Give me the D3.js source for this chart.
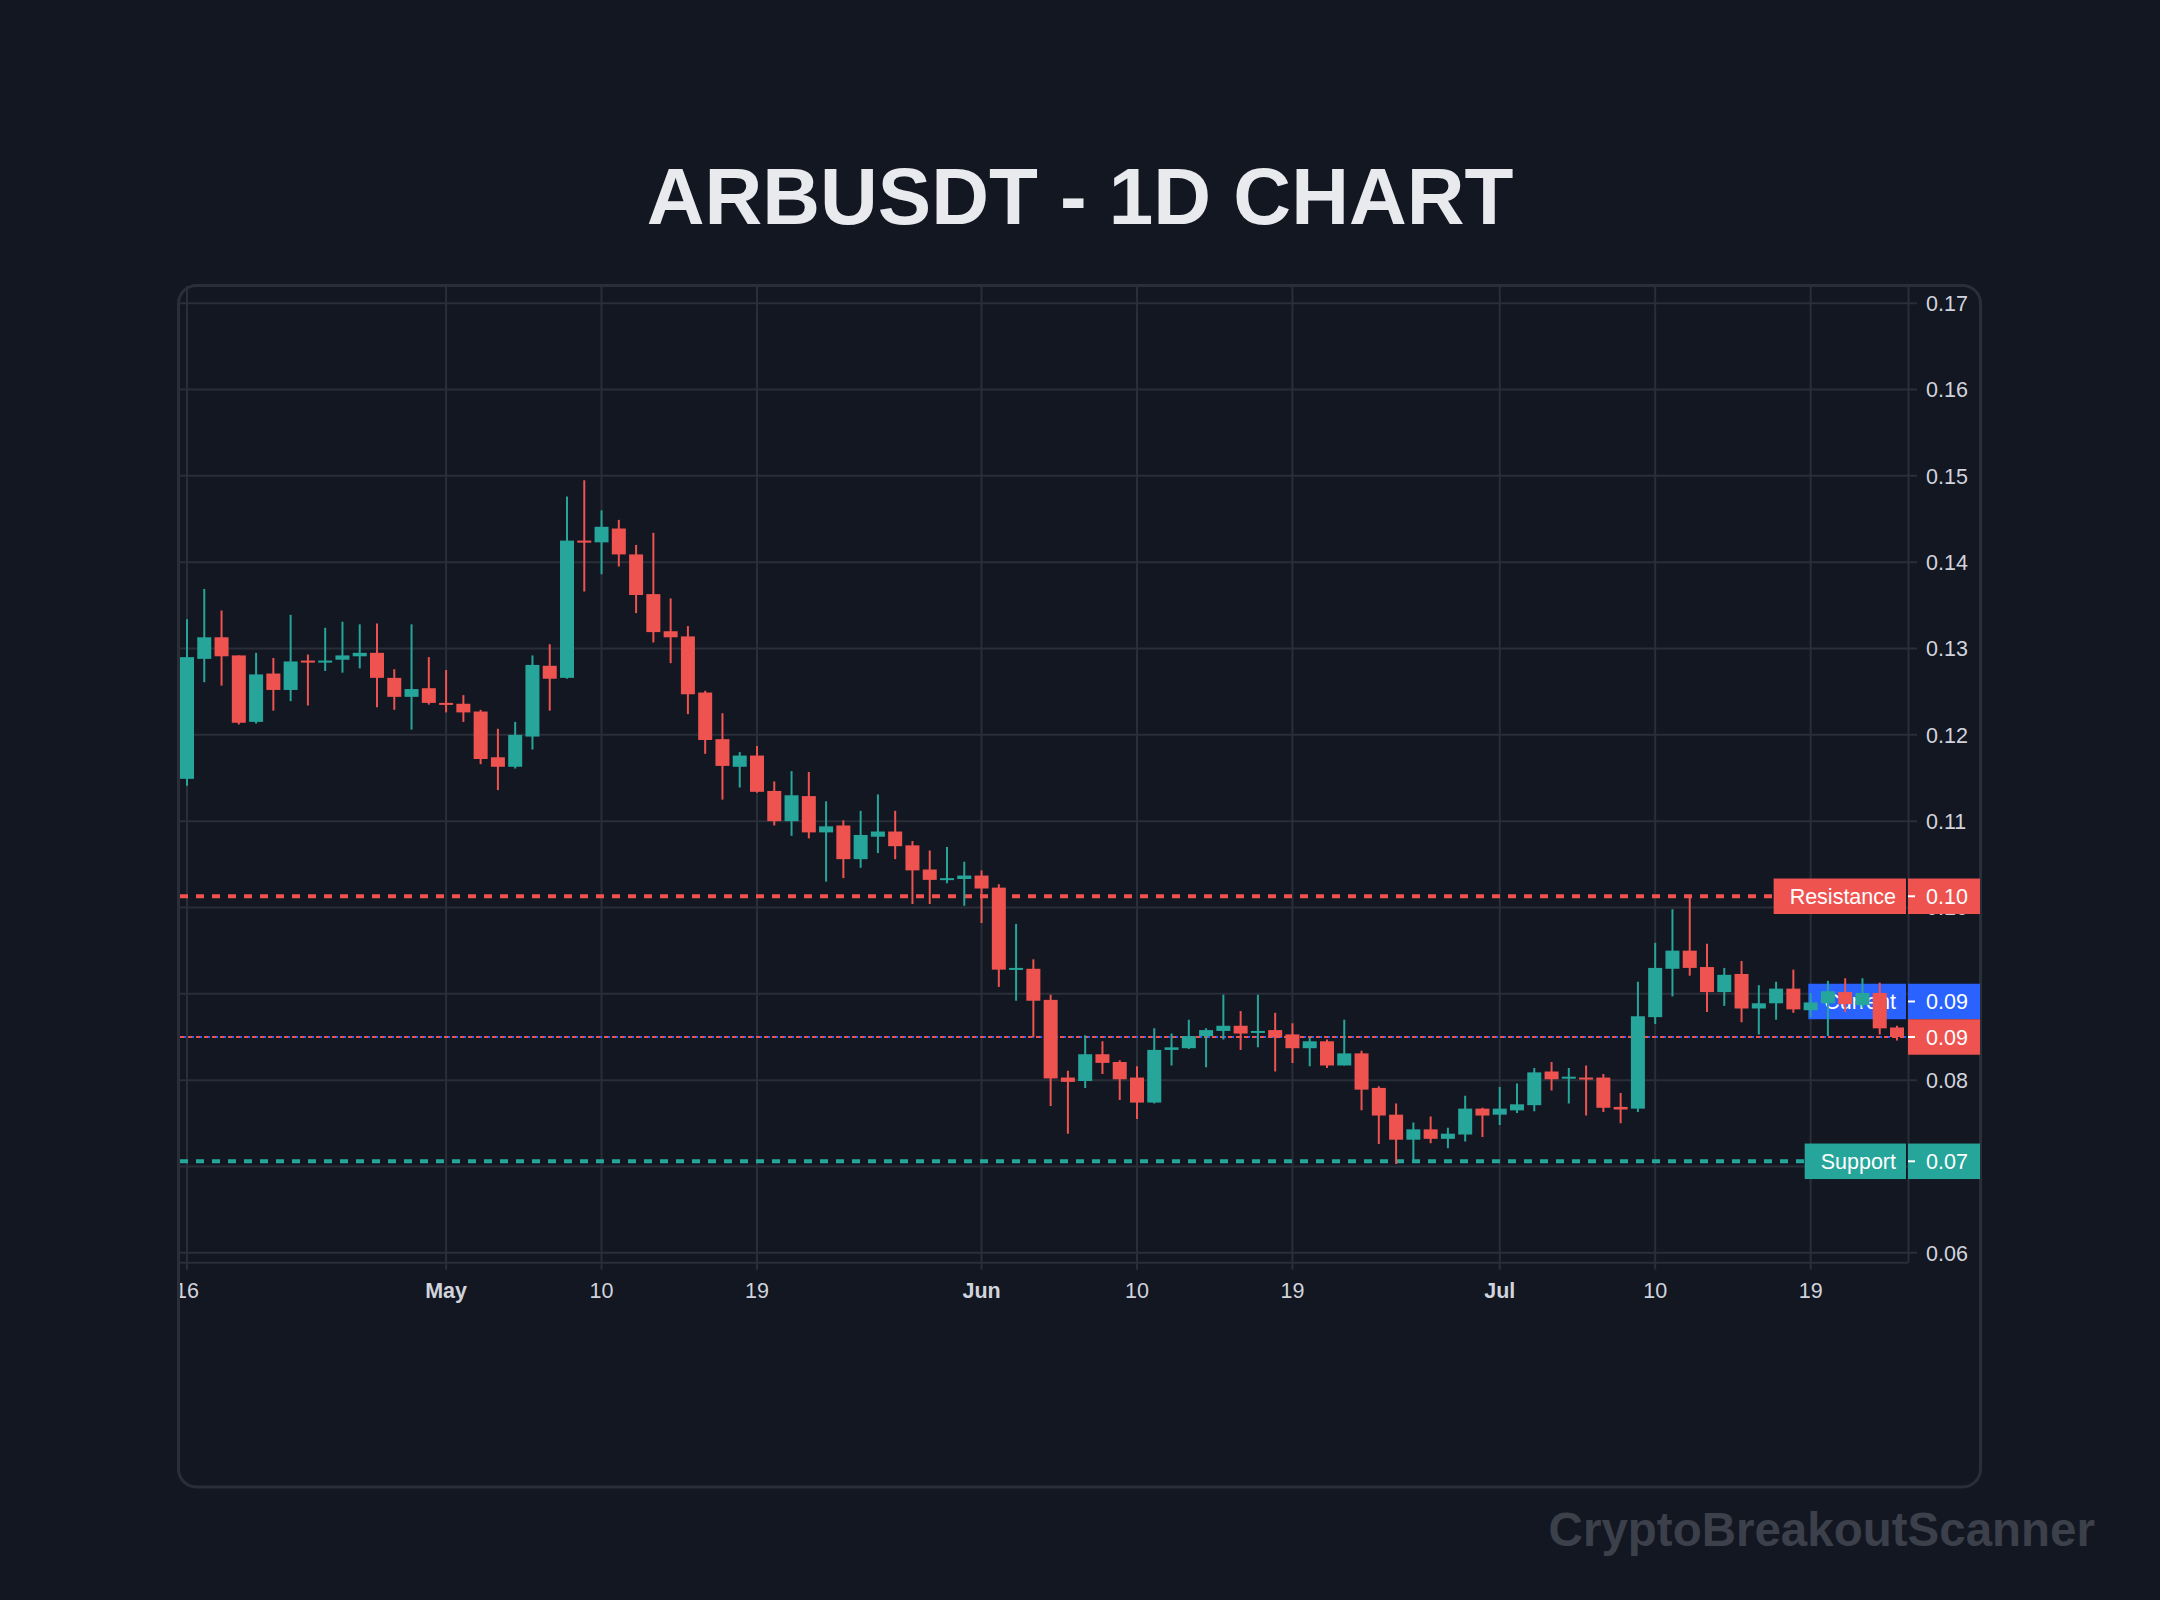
<!DOCTYPE html>
<html><head><meta charset="utf-8">
<script src="https://cdn.jsdelivr.net/npm/d3@7"></script>
<style>html,body{margin:0;padding:0;background:#131722;}svg{display:block;}</style>
</head><body>
<svg id="chart" width="2160" height="1600"></svg>
<script>
// ---------- data ----------
const chartTitle = "ARBUSDT - 1D CHART";
const watermarkText = "CryptoBreakoutScanner";
const firstDay = "2025-04-16";
const opens  = [0.1149,0.1288,0.1313,0.1292,0.1215,0.1271,0.1252,0.1286,0.1285,0.1287,
                0.1291,0.1295,0.1266,0.1244,0.1254,0.1237,0.1236,0.1227,0.1174,0.1163,
                0.1198,0.1280,0.1266,0.1425,0.1423,0.1439,0.1409,0.1363,0.1320,0.1314,
                0.1249,0.1195,0.1163,0.1176,0.1135,0.1100,0.1129,0.1087,0.1095,0.1056,
                0.1082,0.1088,0.1072,0.1044,0.1032,0.1033,0.1037,0.1023,0.0929,0.0929,
                0.0893,0.0803,0.0799,0.0830,0.0821,0.0803,0.0774,0.0835,0.0837,0.0851,
                0.0857,0.0863,0.0856,0.0858,0.0853,0.0837,0.0845,0.0817,0.0831,0.0791,
                0.0760,0.0731,0.0743,0.0732,0.0737,0.0767,0.0760,0.0765,0.0771,0.0810,
                0.0802,0.0803,0.0803,0.0769,0.0767,0.0873,0.0929,0.0950,0.0931,0.0902,
                0.0923,0.0883,0.0889,0.0906,0.0881,0.0889,0.0902,0.0887,0.0901,0.0861];
const highs  = [0.1334,0.1369,0.1344,0.1292,0.1295,0.1289,0.1339,0.1293,0.1324,0.1331,
                0.1328,0.1329,0.1276,0.1328,0.1290,0.1275,0.1246,0.1229,0.1207,0.1215,
                0.1292,0.1305,0.1476,0.1495,0.1460,0.1449,0.1420,0.1434,0.1358,0.1326,
                0.1251,0.1225,0.1180,0.1187,0.1146,0.1158,0.1157,0.1123,0.1101,0.1112,
                0.1131,0.1112,0.1077,0.1066,0.1070,0.1053,0.1043,0.1027,0.0981,0.0940,
                0.0899,0.0811,0.0852,0.0845,0.0823,0.0816,0.0860,0.0854,0.0870,0.0860,
                0.0899,0.0880,0.0899,0.0878,0.0866,0.0849,0.0847,0.0870,0.0834,0.0793,
                0.0773,0.0751,0.0758,0.0745,0.0782,0.0768,0.0792,0.0796,0.0814,0.0821,
                0.0814,0.0817,0.0807,0.0785,0.0914,0.0959,0.0998,0.1013,0.0958,0.0930,
                0.0938,0.0910,0.0914,0.0928,0.0901,0.0915,0.0918,0.0918,0.0913,0.0863];
const lows   = [0.1141,0.1261,0.1257,0.1212,0.1213,0.1228,0.1239,0.1234,0.1274,0.1272,
                0.1277,0.1232,0.1229,0.1206,0.1235,0.1226,0.1215,0.1166,0.1136,0.1161,
                0.1183,0.1228,0.1265,0.1366,0.1386,0.1395,0.1341,0.1307,0.1283,0.1224,
                0.1178,0.1125,0.1139,0.1133,0.1095,0.1083,0.1080,0.1030,0.1034,0.1046,
                0.1063,0.1056,0.1004,0.1004,0.1028,0.1002,0.0982,0.0908,0.0892,0.0850,
                0.0770,0.0738,0.0791,0.0807,0.0777,0.0755,0.0773,0.0817,0.0836,0.0815,
                0.0847,0.0835,0.0838,0.0810,0.0820,0.0816,0.0814,0.0817,0.0765,0.0726,
                0.0703,0.0707,0.0727,0.0721,0.0729,0.0734,0.0748,0.0762,0.0764,0.0788,
                0.0773,0.0759,0.0763,0.0750,0.0763,0.0865,0.0897,0.0921,0.0879,0.0886,
                0.0867,0.0853,0.0870,0.0878,0.0873,0.0851,0.0879,0.0884,0.0853,0.0846];
const closes = [0.1290,0.1313,0.1291,0.1214,0.1270,0.1252,0.1285,0.1285,0.1286,0.1292,
                0.1295,0.1266,0.1244,0.1253,0.1237,0.1235,0.1226,0.1172,0.1163,0.1200,
                0.1281,0.1265,0.1425,0.1424,0.1441,0.1409,0.1362,0.1319,0.1313,0.1247,
                0.1194,0.1164,0.1176,0.1134,0.1100,0.1130,0.1087,0.1094,0.1056,0.1084,
                0.1088,0.1071,0.1043,0.1032,0.1034,0.1037,0.1022,0.0928,0.0930,0.0892,
                0.0802,0.0798,0.0830,0.0820,0.0801,0.0774,0.0835,0.0838,0.0851,0.0858,
                0.0863,0.0854,0.0857,0.0850,0.0837,0.0845,0.0817,0.0831,0.0789,0.0759,
                0.0731,0.0743,0.0732,0.0738,0.0767,0.0759,0.0767,0.0772,0.0809,0.0801,
                0.0804,0.0801,0.0768,0.0766,0.0874,0.0930,0.0950,0.0930,0.0902,0.0922,
                0.0883,0.0889,0.0906,0.0882,0.0890,0.0903,0.0888,0.0901,0.0860,0.0850];
const priceTicks = [0.06,0.07,0.08,0.09,0.10,0.11,0.12,0.13,0.14,0.15,0.16,0.17];
const timeTickDates  = ["2025-04-16","2025-05-01","2025-05-10","2025-05-19","2025-06-01",
                        "2025-06-10","2025-06-19","2025-07-01","2025-07-10","2025-07-19"];
const timeTickLabels = ["16","May","10","19","Jun","10","19","Jul","10","19"];
const timeTickIsMonth = [false,true,false,false,true,false,false,true,false,false];
const levelNames  = ["Resistance","Support","Current"];
const levelPrices = [0.1013, 0.0706, 0.0850];

// ---------- style ----------
const BG = "#131722", GRID = "#2a2e39", TXT = "#d1d4dc";
const UP = "#26a69a", DOWN = "#ef5350", BLUE = "#2962ff";
const FONT = "'Liberation Sans', Arial, Helvetica, sans-serif";
const levelColors = [DOWN, UP, BLUE];

const pane = {left: 180, top: 286, right: 1908, bottom: 1262.7};
const axisRight = 1980;

const svg = d3.select("#chart");
svg.append("rect").attr("width", 2160).attr("height", 1600).attr("fill", BG);

const defs = svg.append("defs");
defs.append("clipPath").attr("id", "paneClip").append("rect")
  .attr("x", pane.left).attr("y", pane.top)
  .attr("width", pane.right - pane.left).attr("height", pane.bottom - pane.top);
defs.append("clipPath").attr("id", "timeClip").append("rect")
  .attr("x", pane.left).attr("y", pane.bottom).attr("width", axisRight - pane.left).attr("height", 100);

// container
svg.append("rect").attr("x", 178.5).attr("y", 285.5).attr("width", 1802).attr("height", 1201.5)
  .attr("rx", 18).attr("fill", BG).attr("stroke", GRID).attr("stroke-width", 3);

// ---------- scales ----------
const parse = d3.utcParse("%Y-%m-%d");
const d0 = parse(firstDay);
const candles = opens.map((o, i) => ({
  date: d3.utcDay.offset(d0, i), o, h: highs[i], l: lows[i], c: closes[i]
}));
const x = d3.scaleUtc().domain([candles[0].date, candles[candles.length - 1].date]).range([187, 1897]);
const y = d3.scaleLinear().domain([0.06, 0.17]).range([1252.8, 303.2]);
const fmt = d3.format(".2f");

// ---------- label placement (needed for axis occlusion) ----------
const last = candles[candles.length - 1];
const lastColor = last.c >= last.o ? UP : DOWN;
const BOX_H = 35.5;
const lastLabelY = y(last.c);
const labelY = levelPrices.map(p => y(p));
labelY.forEach((ly, k) => {
  if (Math.abs(ly - lastLabelY) < BOX_H) labelY[k] = lastLabelY - BOX_H;
});
const boxCentres = labelY.concat([lastLabelY]);

// ---------- grid ----------
const grid = svg.append("g");
grid.selectAll("line.h").data(priceTicks).join("line")
  .attr("x1", pane.left).attr("x2", pane.right + 9)
  .attr("y1", d => y(d)).attr("y2", d => y(d))
  .attr("stroke", GRID).attr("stroke-width", 2);
const tDates = timeTickDates.map(parse);
grid.selectAll("line.v").data(tDates).join("line")
  .attr("x1", d => x(d)).attr("x2", d => x(d))
  .attr("y1", pane.top).attr("y2", pane.bottom + 7)
  .attr("stroke", GRID).attr("stroke-width", 2);
grid.append("line").attr("x1", pane.left).attr("x2", pane.right)
  .attr("y1", pane.bottom).attr("y2", pane.bottom).attr("stroke", GRID).attr("stroke-width", 2);
grid.append("line").attr("x1", pane.right + 0.5).attr("x2", pane.right + 0.5)
  .attr("y1", pane.top).attr("y2", pane.bottom).attr("stroke", GRID).attr("stroke-width", 2);

// price tick labels: only the part not hidden under an axis label box is drawn
const TICK_HALF = 9;
const priceG = svg.append("g");
priceTicks.forEach((p, i) => {
  const cy = y(p);
  let top = cy - TICK_HALF - 2, bottom = cy + TICK_HALF + 2;
  let hidden = false;
  boxCentres.forEach(bc => {
    const bt = bc - BOX_H / 2, bb = bc + BOX_H / 2;
    if (bt <= top && bb >= bottom) hidden = true;
    else if (bt <= top && bb > top) top = bb;
    else if (bb >= bottom && bt < bottom) bottom = bt;
  });
  if (hidden || bottom - top < 1) return;
  const clipped = top > cy - TICK_HALF - 2 || bottom < cy + TICK_HALF + 2;
  const t = priceG.append("text")
    .attr("x", 1926).attr("y", cy).attr("dy", "0.36em")
    .attr("fill", TXT).attr("font-family", FONT).attr("font-size", 21.5)
    .text(fmt(p));
  if (clipped) {
    defs.append("clipPath").attr("id", "tc" + i).append("rect")
      .attr("x", pane.right).attr("y", top).attr("width", axisRight - pane.right).attr("height", bottom - top);
    t.attr("clip-path", "url(#tc" + i + ")");
  }
});

// time tick labels
svg.append("g").attr("clip-path", "url(#timeClip)").selectAll("text").data(tDates).join("text")
  .attr("x", d => x(d)).attr("y", 1297.5).attr("text-anchor", "middle")
  .attr("fill", TXT).attr("font-family", FONT).attr("font-size", 21.5)
  .attr("font-weight", (d, i) => timeTickIsMonth[i] ? "bold" : "normal")
  .text((d, i) => timeTickLabels[i]);

// ---------- level lines ----------
const paneG = svg.append("g").attr("clip-path", "url(#paneClip)");
[0, 1].forEach(k => {
  paneG.append("line").attr("x1", pane.left).attr("x2", pane.right)
    .attr("y1", y(levelPrices[k])).attr("y2", y(levelPrices[k]))
    .attr("stroke", levelColors[k]).attr("stroke-width", 4).attr("stroke-dasharray", "8,8");
});
paneG.append("line").attr("x1", pane.left).attr("x2", pane.right)
  .attr("y1", y(levelPrices[2])).attr("y2", y(levelPrices[2]))
  .attr("stroke", BLUE).attr("stroke-width", 2).attr("stroke-dasharray", "2,2");
paneG.append("line").attr("x1", pane.left).attr("x2", pane.right)
  .attr("y1", y(last.c)).attr("y2", y(last.c))
  .attr("stroke", lastColor).attr("stroke-width", 2).attr("stroke-dasharray", "4,4");

// pane title boxes
const titleG = paneG.append("g");
levelNames.forEach((name, k) => {
  const g = titleG.append("g");
  const t = g.append("text").attr("x", 1896).attr("y", labelY[k]).attr("dy", "0.36em")
    .attr("text-anchor", "end").attr("fill", "#ffffff")
    .attr("font-family", FONT).attr("font-size", 21.5).text(name);
  const w = t.node().getComputedTextLength();
  g.insert("rect", "text").attr("x", 1896 - w - 16).attr("y", labelY[k] - BOX_H / 2)
    .attr("width", w + 26).attr("height", BOX_H).attr("fill", levelColors[k]);
});

// ---------- candles ----------
const cg = paneG.append("g");
const bodyW = 14;
const cs = cg.selectAll("g.c").data(candles).join("g");
cs.append("line")
  .attr("x1", d => x(d.date)).attr("x2", d => x(d.date))
  .attr("y1", d => y(d.h)).attr("y2", d => y(d.l))
  .attr("stroke", d => d.c >= d.o ? UP : DOWN).attr("stroke-width", 2);
cs.append("rect")
  .attr("x", d => x(d.date) - bodyW / 2).attr("width", bodyW)
  .attr("y", d => y(Math.max(d.o, d.c)))
  .attr("height", d => Math.max(2, Math.abs(y(d.o) - y(d.c))))
  .attr("fill", d => d.c >= d.o ? UP : DOWN);

// ---------- axis labels ----------
const axisG = svg.append("g");
function axisLabel(cy, color, price) {
  axisG.append("rect").attr("x", pane.right).attr("y", cy - BOX_H / 2)
    .attr("width", axisRight - pane.right).attr("height", BOX_H).attr("fill", color);
  axisG.append("line").attr("x1", pane.right).attr("x2", pane.right + 7)
    .attr("y1", cy).attr("y2", cy).attr("stroke", "#ffffff").attr("stroke-width", 2);
  axisG.append("text").attr("x", 1926).attr("y", cy).attr("dy", "0.36em")
    .attr("fill", "#ffffff").attr("font-family", FONT).attr("font-size", 21.5).text(fmt(price));
}
levelNames.forEach((n, k) => axisLabel(labelY[k], levelColors[k], levelPrices[k]));
axisLabel(lastLabelY, lastColor, last.c);

// ---------- title & watermark ----------
svg.append("text").attr("x", 1080).attr("y", 224).attr("text-anchor", "middle")
  .attr("fill", "#e8eaed").attr("font-family", FONT).attr("font-weight", "bold")
  .attr("font-size", 80).text(chartTitle);
svg.append("text").attr("x", 2095).attr("y", 1546).attr("text-anchor", "end")
  .attr("fill", "#3c404b").attr("font-family", FONT).attr("font-weight", "bold")
  .attr("font-size", 47.5).text(watermarkText);
</script>
</body></html>
